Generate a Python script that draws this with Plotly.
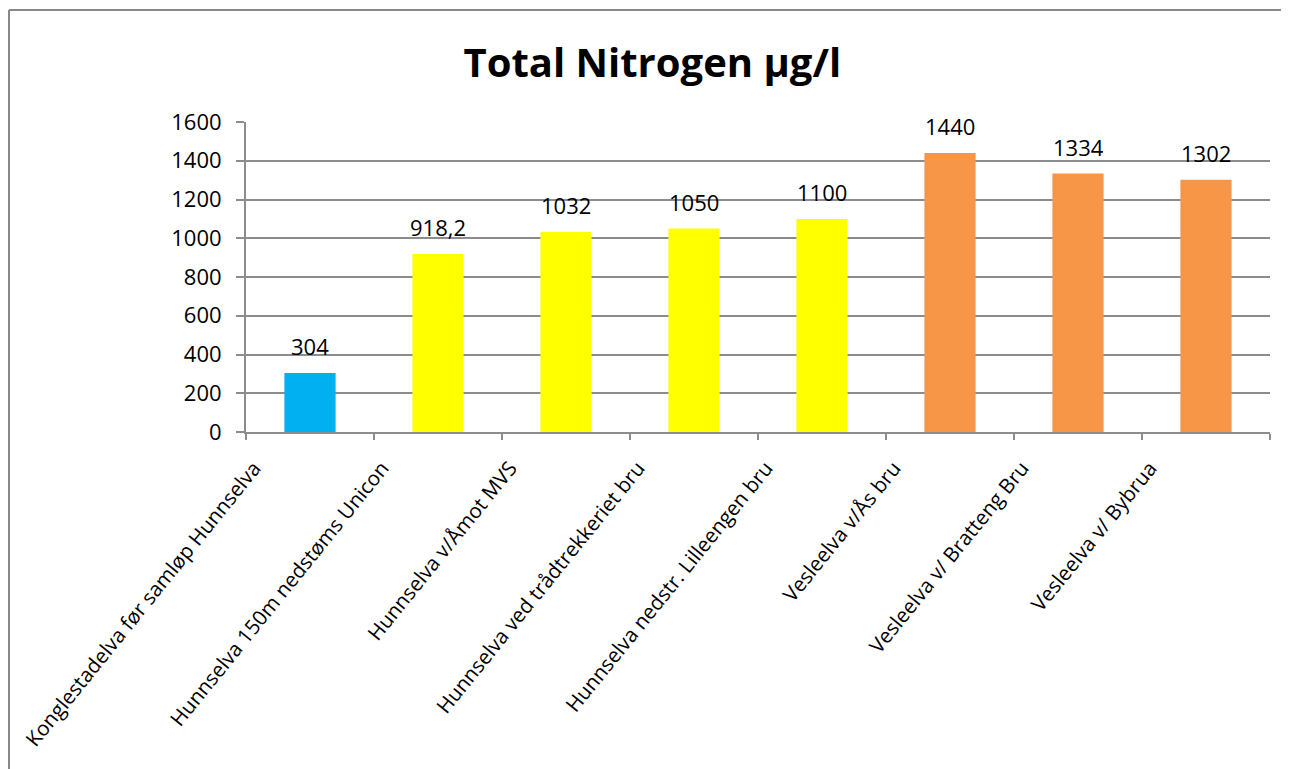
import plotly.graph_objects as go

stations = [
    "Konglestadelva før samløp Hunnselva",
    "Hunnselva 150m nedstøms Unicon",
    "Hunnselva v/Åmot MVS",
    "Hunnselva ved trådtrekkeriet bru",
    "Hunnselva nedstr. Lilleengen bru",
    "Vesleelva v/Ås bru",
    "Vesleelva v/ Bratteng Bru",
    "Vesleelva v/ Bybrua",
]
total_n = [304, 918.2, 1032, 1050, 1100, 1440, 1334, 1302]
value_labels = ["304", "918,2", "1032", "1050", "1100", "1440", "1334", "1302"]
bar_colors = ["#00B0F0", "#FFFF00", "#FFFF00", "#FFFF00", "#FFFF00", "#F79646", "#F79646", "#F79646"]
y_ticks = [0, 200, 400, 600, 800, 1000, 1200, 1400, 1600]

FONT = "Open Sans"
GRID = "#8c8c8c"
BORDER = "#888888"

# plot area in figure pixels (page body adds an 8px offset)
W, H = 1281, 761
L, R, T, B = 238, 19, 114, 337
pw, ph = W - L - R, H - T - B

fig = go.Figure(
    go.Bar(
        x=stations,
        y=total_n,
        marker=dict(color=bar_colors, line=dict(width=0)),
        hoverinfo="x+y",
    )
)

for station, value, label in zip(stations, total_n, value_labels):
    fig.add_annotation(
        x=station,
        y=value,
        text=label,
        showarrow=False,
        yanchor="middle",
        yshift=27,
        font=dict(family=FONT, size=22, color="#000000"),
    )

# outer chart border: only the top and left edges show in the reference
left_x = (1 - L) / pw
top_y = (ph + T - 2) / ph
fig.add_shape(type="line", xref="paper", yref="paper", x0=left_x, x1=(W - L) / pw, y0=top_y, y1=top_y,
              line=dict(color=BORDER, width=2))
fig.add_shape(type="line", xref="paper", yref="paper", x0=left_x, x1=left_x, y0=top_y, y1=-B / ph,
              line=dict(color=BORDER, width=2))

fig.update_layout(
    width=W,
    height=H,
    margin=dict(l=L, r=R, t=T, b=B),
    paper_bgcolor="white",
    plot_bgcolor="white",
    bargap=0.6,
    showlegend=False,
    title=dict(
        text="<b>Total Nitrogen µg/l</b>",
        x=0.503,
        xanchor="center",
        y=0.928,
        yanchor="middle",
        font=dict(family=FONT, size=40, color="#000000"),
    ),
    font=dict(family=FONT, color="#000000"),
)

fig.update_xaxes(
    automargin=False,
    tickangle=-51,
    tickson="boundaries",
    ticks="outside",
    ticklen=6,
    tickwidth=2,
    tickcolor=GRID,
    showline=True,
    linecolor=GRID,
    linewidth=2,
    showgrid=False,
    ticklabelstandoff=14,
    ticklabelshift=-56,
    tickfont=dict(family=FONT, size=20.5, color="#000000"),
)
fig.update_yaxes(
    automargin=False,
    range=[0, 1600],
    tickvals=y_ticks,
    ticks="outside",
    ticklen=8,
    tickwidth=2,
    tickcolor=GRID,
    showline=True,
    linecolor=GRID,
    linewidth=2,
    showgrid=True,
    gridcolor=GRID,
    gridwidth=2,
    zeroline=False,
    ticklabelstandoff=10,
    tickfont=dict(family=FONT, size=22, color="#000000"),
)

fig.write_html("out.html")
